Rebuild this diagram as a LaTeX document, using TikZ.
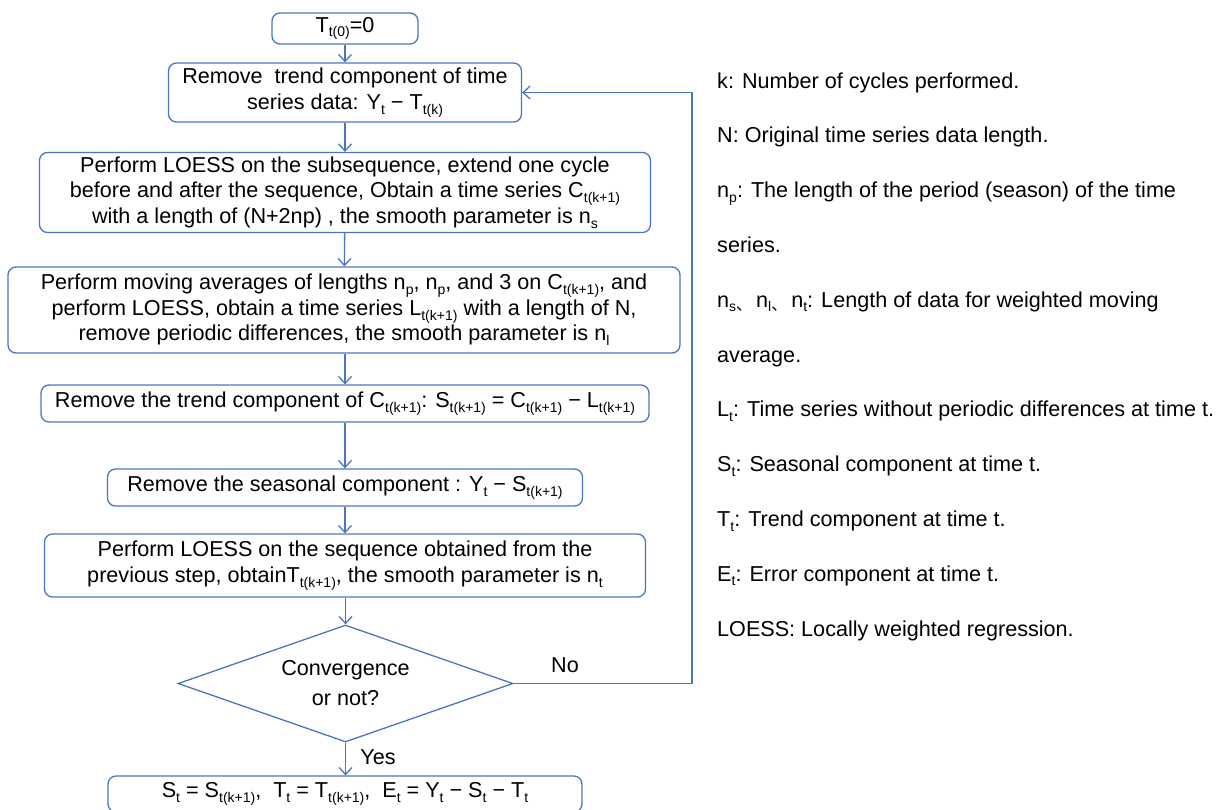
\documentclass[tikz,border=0pt]{standalone}
\usepackage{fontspec}
\setmainfont{Liberation Sans}
\newfontfamily\cjk{Noto Sans CJK SC}
\usetikzlibrary{arrows.meta,shapes.geometric}
\definecolor{fc}{HTML}{4A76BE}
\newcommand\sbs[1]{\raisebox{-0.22em}{\fontsize{14}{14}\selectfont #1}}
\newcommand\mns{\char"2212\relax}
\newcommand\dun{\raisebox{-0.15em}{\cjk\fontsize{16}{16}\selectfont 、}\hspace{4pt}}
\begin{document}
\begin{tikzpicture}[x=1pt,y=-1pt,
  font=\fontsize{21.6}{25.5}\selectfont,
  box/.style={draw=fc, line width=1.3pt, rounded corners=8pt, align=center, inner sep=0pt},
  arr/.style={draw=fc, line width=1.3pt, -{Straight Barb[length=7pt,width=13pt]}},
  note/.style={anchor=base west, inner sep=0pt}]
\useasboundingbox (0,0) rectangle (1223,809);
\node[box, minimum width=146pt, minimum height=31pt] (n1) at (345,28.5) {T\sbs{t(0)}=0};
\node[box, minimum width=353pt, minimum height=59pt] (n2) at (345,92.5)
  {Remove\ \ trend component of time\\series data: Y\sbs{t} \mns{} T\sbs{t(k)}};
\node[box, minimum width=611pt, minimum height=80pt] (n3) at (345,192.5)
  {Perform LOESS on the subsequence, extend one cycle\\
   before and after the sequence, Obtain a time series C\sbs{t(k+1)}\\
   with a length of (N+2np) , the smooth parameter is n\sbs{s}};
\node[box, minimum width=672pt, minimum height=86pt] (n4) at (344,310)
  {Perform moving averages of lengths n\sbs{p}, n\sbs{p}, and 3 on C\sbs{t(k+1)}, and\\
   perform LOESS, obtain a time series L\sbs{t(k+1)} with a length of N,\\
   remove periodic differences, the smooth parameter is n\sbs{l}};
\node[box, minimum width=608pt, minimum height=37pt] (n5) at (345,403.5)
  {Remove the trend component of C\sbs{t(k+1)}: S\sbs{t(k+1)} = C\sbs{t(k+1)} \mns{} L\sbs{t(k+1)}};
\node[box, minimum width=475pt, minimum height=37pt] (n6) at (345,487.5)
  {Remove the seasonal component : Y\sbs{t} \mns{} S\sbs{t(k+1)}};
\node[box, minimum width=601pt, minimum height=63pt] (n7) at (345,565.5)
  {Perform LOESS on the sequence obtained from the\\
   previous step, obtainT\sbs{t(k+1)}, the smooth parameter is n\sbs{t}};
\node[draw=fc, line width=1.3pt, diamond, aspect=2.86, minimum width=335pt, minimum height=117pt,
  inner sep=0pt, align=center, font=\fontsize{21.6}{30}\selectfont] (dia) at (345.5,683.5)
  {Convergence\\or not?};
\node[box, minimum width=474pt, minimum height=36pt] (n8) at (345,794)
  {S\sbs{t} = S\sbs{t(k+1)},\ \ T\sbs{t} = T\sbs{t(k+1)},\ \ E\sbs{t} = Y\sbs{t} \mns{} S\sbs{t} \mns{} T\sbs{t}};

\draw[arr] (n1) -- (n2);
\draw[arr] (n2) -- (n3);
\draw[arr] (n3) -- (n4);
\draw[arr] (n4.south -| n5) -- (n5);
\draw[arr] (n5) -- (n6);
\draw[arr] (n6) -- (n7);
\draw[arr] (n7.south -| dia) -- (dia);
\draw[arr] (dia) -- (n8.north -| dia);
\coordinate (loop) at (692,683.5);
\draw[arr] (dia.east) -- (loop) |- (n2.east);
\node (no) at (565,665) {No};
\node (yes) at (378,757) {Yes};

\node[note] (d1) at (717,88) {k: Number of cycles performed.};
\node[note] (d2) at (717,142.8) {N: Original time series data length.};
\node[note] (d3) at (717,197.6) {n\sbs{p}: The length of the period (season) of the time};
\node[note] (d4) at (717,252.4) {series.};
\node[note] (d5) at (717,307.2) {n\sbs{s}\dun n\sbs{l}\dun n\sbs{t}: Length of data for weighted moving};
\node[note] (d6) at (717,362) {average.};
\node[note] (d7) at (717,416.8) {L\sbs{t}: Time series without periodic differences at time t.};
\node[note] (d8) at (717,471.6) {S\sbs{t}: Seasonal component at time t.};
\node[note] (d9) at (717,526.4) {T\sbs{t}: Trend component at time t.};
\node[note] (d10) at (717,581.2) {E\sbs{t}: Error component at time t.};
\node[note] (d11) at (717,636) {LOESS: Locally weighted regression.};
\end{tikzpicture}
\end{document}
